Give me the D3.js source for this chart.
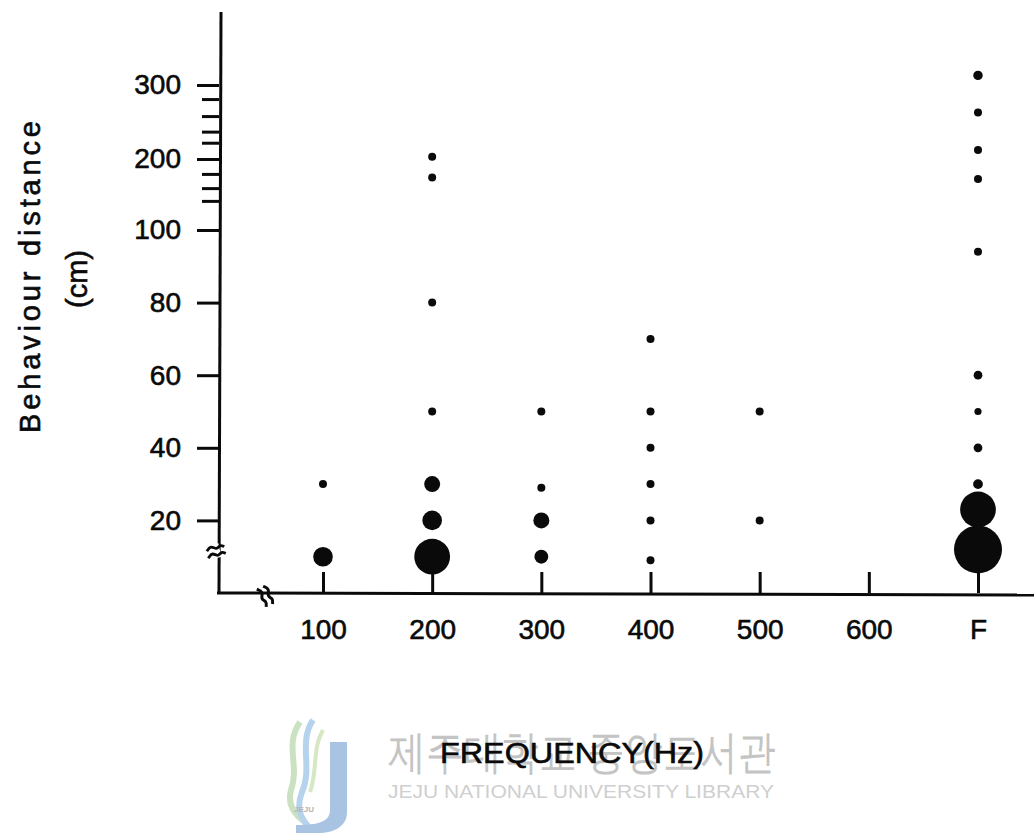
<!DOCTYPE html>
<html>
<head>
<meta charset="utf-8">
<script src="https://cdn.jsdelivr.net/npm/d3@7"></script>
<style>
  html, body { margin: 0; padding: 0; background: #fff; }
  svg { display: block; }
  text { font-family: "Liberation Sans", Arial, Helvetica, sans-serif; }
</style>
</head>
<body>
<svg id="chart" width="1034" height="833"></svg>
<script>
// ---- data ----
const categories = ["100", "200", "300", "400", "500", "600", "F"];
// behaviour distances (cm) observed for each frequency category
const distances = [
  [10, 30],
  [203, 174, 80, 50, 30, 20, 10],
  [50, 29, 20, 10],
  [70, 50, 40, 30, 20, 9],
  [50, 20],
  [],
  [313, 263, 212, 172, 94, 60, 50, 40, 30, 23, 12]
];
// relative number of responses at each point (dot size)
const counts = [
  [6, 1],
  [1, 1, 1, 1, 4, 6, 20],
  [1, 1, 4, 3],
  [1, 1, 1, 1, 1, 1],
  [1, 1],
  [],
  [1.4, 1, 1, 1, 1, 1.2, 0.8, 1.2, 1.5, 20, 36]
];
const yMajorTicks = [20, 40, 60, 80, 100, 200, 300];
const yMinorTicks = [141, 159, 179, 222, 237, 258, 281];
const xTitle = "FREQUENCY(Hz)";
const yTitle = ["Behaviour  distance", "(cm)"];

// ---- drawing ----
const svg = d3.select("#chart");
const axisX = 219, axisY = 593;

const x = d3.scalePoint().domain(categories).range([323, 978]);
const y = d3.scaleLinear().domain([0, 100, 200, 300]).range([axisY, 230, 159, 85]);
const r = d3.scaleSqrt().domain([0, 1]).range([0, 4]);

// watermark (library stamp)
const wm = svg.append("g").attr("class", "watermark");
wm.append("path")
  .attr("d", "M300,722 C284,745 300,765 291,790 C287,805 295,815 305,822")
  .attr("fill", "none").attr("stroke", "#cbe2c2").attr("stroke-width", 6);
wm.append("path")
  .attr("d", "M313,720 C298,742 313,768 302,792 C296,808 300,818 310,828")
  .attr("fill", "none").attr("stroke", "#b6d3ee").attr("stroke-width", 6);
wm.append("path")
  .attr("d", "M323,730 C312,748 318,770 310,792")
  .attr("fill", "none").attr("stroke", "#d6e7c2").attr("stroke-width", 4);
wm.append("path")
  .attr("d", "M330,742 L347,742 L347,812 C347,826 335,833 318,833 L296,833 L296,825 C318,825 330,822 330,810 Z")
  .attr("fill", "#a9c3e2");
wm.append("text").attr("x", 304).attr("y", 812).attr("text-anchor", "middle")
  .attr("font-size", 8).attr("font-weight", "bold").attr("fill", "#b3b3b3").text("JEJU");
wm.append("text").attr("x", 388).attr("y", 768)
  .attr("font-family", "'Noto Sans CJK KR', sans-serif")
  .attr("font-size", 46).attr("font-weight", 500).attr("fill", "#c4c4c4")
  .attr("textLength", 388).attr("lengthAdjust", "spacingAndGlyphs")
  .text("제주대학교 중앙도서관");
wm.append("text").attr("x", 388).attr("y", 798)
  .attr("font-size", 19).attr("fill", "#cfcfcf")
  .attr("textLength", 386).attr("lengthAdjust", "spacingAndGlyphs")
  .text("JEJU NATIONAL UNIVERSITY  LIBRARY");

const ink = "#0a0a0a";

// y axis line
svg.append("line").attr("x1", axisX + 2).attr("y1", 12).attr("x2", axisX).attr("y2", axisY)
  .attr("stroke", ink).attr("stroke-width", 3);
// x axis line
svg.append("line").attr("x1", axisX - 2).attr("y1", axisY).attr("x2", 1034).attr("y2", axisY + 2)
  .attr("stroke", ink).attr("stroke-width", 3);

// y axis ticks via d3 axis
const yAxis = d3.axisLeft(y).tickValues(yMajorTicks).tickSize(22).tickPadding(16)
  .tickFormat(d3.format("d"));
const gy = svg.append("g").attr("transform", `translate(${axisX},0)`).call(yAxis);
gy.select(".domain").remove();
gy.selectAll(".tick line").attr("stroke", ink).attr("stroke-width", 3);
gy.selectAll(".tick text").attr("font-size", 28).attr("fill", ink)
  .attr("font-family", "'Liberation Sans', Arial, sans-serif")
  .attr("stroke", ink).attr("stroke-width", 0.6);

const yMinor = d3.axisLeft(y).tickValues(yMinorTicks).tickSize(17).tickFormat("");
const gym = svg.append("g").attr("transform", `translate(${axisX},0)`).call(yMinor);
gym.select(".domain").remove();
gym.selectAll(".tick line").attr("stroke", ink).attr("stroke-width", 3);

// x axis ticks (drawn upward from the axis)
const xAxis = d3.axisBottom(x).tickSize(-21).tickPadding(0);
const gx = svg.append("g").attr("transform", `translate(0,${axisY})`).call(xAxis);
gx.select(".domain").remove();
gx.selectAll(".tick line").attr("stroke", ink).attr("stroke-width", 3);
gx.selectAll(".tick text").attr("y", 46).attr("dy", 0).attr("font-size", 28).attr("fill", ink)
  .attr("font-family", "'Liberation Sans', Arial, sans-serif")
  .attr("stroke", ink).attr("stroke-width", 0.6);

// axis break marks
const wave = d3.line().curve(d3.curveBasis);
function ySquiggle(cx, cy) {
  const g = svg.append("g").attr("transform", `translate(${cx},${cy}) rotate(-12)`);
  g.append("rect").attr("x", -4).attr("y", -7).attr("width", 8).attr("height", 14).attr("fill", "#fff");
  [-3.5, 3.5].forEach(dy => {
    g.append("path").attr("d", wave([[-9, dy + 2], [-4, dy - 3], [1, dy + 3], [5, dy - 2], [9, dy + 1]]))
      .attr("fill", "none").attr("stroke", ink).attr("stroke-width", 2.8);
  });
}
function xSquiggle(cx, cy) {
  const g = svg.append("g").attr("transform", `translate(${cx},${cy}) rotate(65)`);
  [-3.5, 3.5].forEach(dy => {
    g.append("path").attr("d", wave([[-10, dy + 2], [-5, dy - 3], [1, dy + 3], [5, dy - 2], [10, dy + 1]]))
      .attr("fill", "none").attr("stroke", ink).attr("stroke-width", 3);
  });
}
ySquiggle(axisX - 3, y(11.6));
xSquiggle(266, axisY + 3);

// points
const points = [];
categories.forEach((c, i) => {
  distances[i].forEach((d, j) => points.push({ cat: c, dist: d, n: counts[i][j] }));
});
svg.append("g").selectAll("circle")
  .data(points)
  .join("circle")
  .attr("cx", d => x(d.cat))
  .attr("cy", d => y(d.dist))
  .attr("r", d => r(d.n))
  .attr("fill", ink);

// axis titles
svg.append("text").attr("x", 572).attr("y", 763).attr("text-anchor", "middle")
  .attr("font-size", 29).attr("fill", ink).attr("stroke", ink).attr("stroke-width", 0.6)
  .attr("textLength", 264).attr("lengthAdjust", "spacingAndGlyphs")
  .text(xTitle);

svg.append("text")
  .attr("transform", "translate(40,277) rotate(-90)")
  .attr("text-anchor", "middle")
  .attr("font-size", 29).attr("fill", ink).attr("stroke", ink).attr("stroke-width", 0.6)
  .attr("textLength", 312).attr("lengthAdjust", "spacing")
  .text(yTitle[0]);
svg.append("text")
  .attr("transform", "translate(87,279) rotate(-90)")
  .attr("text-anchor", "middle")
  .attr("font-size", 29).attr("fill", ink).attr("stroke", ink).attr("stroke-width", 0.6)
  .text(yTitle[1]);
</script>
</body>
</html>
